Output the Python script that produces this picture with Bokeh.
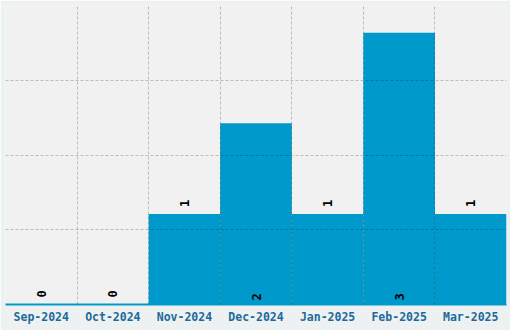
import math
from bokeh.plotting import figure
from bokeh.models import ColumnDataSource, FixedTicker, Range1d
from bokeh.core.properties import value
from bokeh.embed import file_html
from bokeh.resources import INLINE

months = ["Sep-2024", "Oct-2024", "Nov-2024", "Dec-2024", "Jan-2025", "Feb-2025", "Mar-2025"]
counts = [0, 0, 1, 2, 1, 3, 1]
y_max = 3.3

xs = [i + 0.5 for i in range(len(months))]
src = ColumnDataSource(dict(x=xs, top=counts))

p = figure(width=510, height=330, output_backend="svg", toolbar_location=None,
           x_range=Range1d(0, len(months)), y_range=Range1d(0, y_max),
           y_axis_location=None, min_border_left=5, min_border_right=4,
           min_border_top=5, min_border_bottom=26)
p.background_fill_color = "#f1f1f1"
p.border_fill_color = "#eef1f1"
p.outline_line_color = None

p.vbar(x="x", top="top", width=1.0, source=src, fill_color="#0099cc", line_color=None)

# grid
p.xgrid.ticker = FixedTicker(ticks=list(range(1, len(months))))
p.ygrid.ticker = FixedTicker(ticks=[y_max * k / 4 for k in (1, 2, 3)])
for g in (p.xgrid, p.ygrid):
    g.grid_line_color = "black"
    g.grid_line_alpha = 0.22
    g.grid_line_dash = "3 2"
    g.grid_line_width = 1
    g.level = "overlay"

# x axis
ax = p.xaxis[0]
ax.ticker = FixedTicker(ticks=xs)
ax.major_label_overrides = {x: m for x, m in zip(xs, months)}
ax.major_tick_line_color = None
ax.minor_tick_line_color = None
ax.major_tick_out = 0
ax.major_tick_in = 0
ax.axis_line_color = "#0099cc"
ax.axis_line_width = 2
ax.major_label_standoff = 5
ax.major_label_text_font = "DejaVu Sans Mono"
ax.major_label_text_font_style = "bold"
ax.major_label_text_font_size = "11.5px"
ax.major_label_text_color = "#1c6a9c"

# value labels
out_x, out_y, out_t = [], [], []
in_x, in_t = [], []
for x, c in zip(xs, counts):
    if c <= 1:
        out_x.append(x); out_y.append(c); out_t.append(str(c))
    else:
        in_x.append(x); in_t.append(str(c))

p.text(x=out_x, y=out_y, text=out_t, angle=math.pi / 2, y_offset=-7,
       text_align="left", text_baseline="middle", text_color="black",
       text_font=value("DejaVu Sans Mono"), text_font_style="bold", text_font_size="12px")
p.text(x=in_x, y=[0] * len(in_x), text=in_t, angle=math.pi / 2, y_offset=-4,
       text_align="left", text_baseline="middle", text_color="black",
       text_font=value("DejaVu Sans Mono"), text_font_style="bold", text_font_size="12px")

open("out.html", "w").write(file_html(p, INLINE))
